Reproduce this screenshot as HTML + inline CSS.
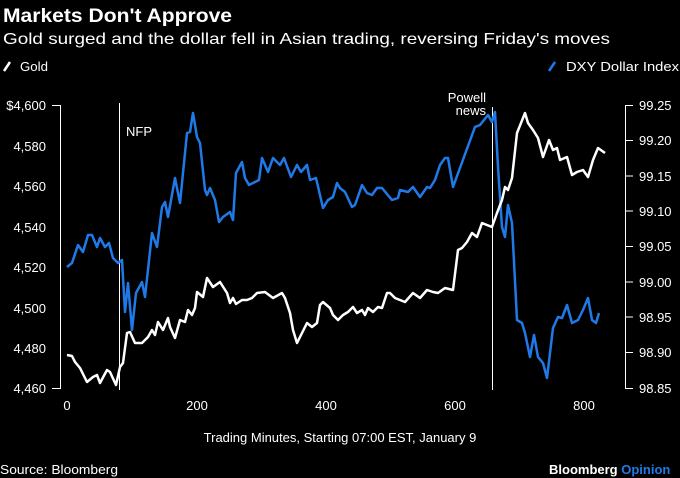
<!DOCTYPE html>
<html><head><meta charset="utf-8"><style>
html,body{margin:0;padding:0;background:#000;}
svg{display:block;font-family:"Liberation Sans",sans-serif;}
</style></head><body>
<svg width="680" height="478" viewBox="0 0 680 478" xmlns="http://www.w3.org/2000/svg">
<rect width="680" height="478" fill="#000"/>
<text x="3" y="22" fill="#fff" font-size="19" font-weight="bold" textLength="229" lengthAdjust="spacingAndGlyphs">Markets Don't Approve</text>
<text x="3" y="44" fill="#fff" font-size="16" textLength="607" lengthAdjust="spacingAndGlyphs">Gold surged and the dollar fell in Asian trading, reversing Friday's moves</text>
<line x1="4" y1="71" x2="10" y2="62" stroke="#fff" stroke-width="2.5"/>
<text x="20" y="71" fill="#fff" font-size="13" textLength="28" lengthAdjust="spacingAndGlyphs">Gold</text>
<line x1="549" y1="71" x2="555" y2="62" stroke="#1f7ae8" stroke-width="2.5"/>
<text x="566" y="71" fill="#fff" font-size="13" textLength="113" lengthAdjust="spacingAndGlyphs">DXY Dollar Index</text>
<g stroke="#fff" stroke-width="1" fill="none">
<path d="M52 105.5H60.5V388.5H52"/>
<path d="M633 105.5H625.5V388.5H633"/>
<path d="M625 140.5h8M625 176h8M625 211h8M625 246.5h8M625 282h8M625 317h8M625 352.5h8"/>
<line x1="119.5" y1="103" x2="119.5" y2="390"/>
<line x1="492.5" y1="107" x2="492.5" y2="390"/>
</g>
<g fill="#fff" font-size="13" text-anchor="end">
<text x="46" y="110">$4,600</text><text x="46" y="151">4,580</text><text x="46" y="191">4,560</text><text x="46" y="232">4,540</text><text x="46" y="272">4,520</text><text x="46" y="313">4,500</text><text x="46" y="353">4,480</text><text x="46" y="393">4,460</text>
</g>
<g fill="#fff" font-size="13">
<text x="639" y="110">99.25</text><text x="639" y="145">99.20</text><text x="639" y="181">99.15</text><text x="639" y="216">99.10</text><text x="639" y="251">99.05</text><text x="639" y="287">99.00</text><text x="639" y="322">98.95</text><text x="639" y="357">98.90</text><text x="639" y="393">98.85</text>
</g>
<g fill="#fff" font-size="13" text-anchor="middle">
<text x="67" y="410">0</text><text x="197" y="410">200</text><text x="326" y="410">400</text><text x="455" y="410">600</text><text x="584" y="410">800</text>
<text x="340" y="442">Trading Minutes, Starting 07:00 EST, January 9</text>
</g>
<text x="126" y="136" fill="#fff" font-size="13">NFP</text>
<text x="486" y="102" fill="#fff" font-size="13" text-anchor="end">Powell</text>
<text x="486" y="115" fill="#fff" font-size="13" text-anchor="end">news</text>
<text x="0" y="474" fill="#fff" font-size="13" textLength="118" lengthAdjust="spacingAndGlyphs">Source: Bloomberg</text>
<text x="549" y="474" fill="#fff" font-size="13" font-weight="bold">Bloomberg <tspan fill="#1f7ae8">Opinion</tspan></text>
<polyline fill="none" stroke="#1f7ae8" stroke-width="2.5" stroke-linejoin="round" points="67,267 72,263 78,245 83,252 88,235 92,235 97,247 100,238 105,247 109,243 113,258 118,263 122,260 125,312 128,283 132,330 136,293 142,282 145,297 152,233 157,247 162,207 165,202 168,217 175,178 180,203 187,133 190,132 193,113 197,137 200,143 205,190 207,195 210,188 215,200 219,222 223,217 230,212 233,220 236,173 242,162 245,178 249,185 255,182 259,180 262,158 268,172 273,158 280,165 284,158 291,177 297,165 301,172 307,165 310,180 316,178 323,208 328,200 333,197 337,183 340,188 345,192 352,207 355,205 362,185 367,193 372,195 377,188 382,188 392,200 398,198 400,190 408,192 413,187 420,197 427,187 430,188 435,180 440,165 445,158 448,158 453,187 475,127 480,125 488,115 492,122 495,112 498,167 502,227 505,237 508,205 512,223 517,320 522,323 525,333 530,357 534,335 538,357 543,363 547,378 553,328 558,317 562,318 567,305 572,323 578,320 583,310 588,298 592,320 596,323 599,313"/>
<polyline fill="none" stroke="#fff" stroke-width="2.5" stroke-linejoin="round" points="67,355 72,356 75,362 80,368 87,382 93,377 97,375 100,383 107,370 110,372 116,385 120,367 123,363 127,333 130,332 135,343 142,343 148,337 152,330 155,335 158,322 163,330 168,318 170,327 175,338 180,320 185,322 188,310 192,315 195,308 197,292 203,297 207,278 213,287 220,282 227,293 230,303 233,298 236,304 242,300 247,300 252,298 257,293 265,292 273,298 282,293 285,298 290,313 293,330 297,343 302,333 307,323 312,327 317,323 320,305 323,302 330,308 333,315 338,320 343,315 348,312 353,307 357,313 362,310 365,315 368,308 373,312 378,307 382,308 387,293 390,293 395,298 405,302 413,293 420,298 427,290 433,292 438,293 445,288 453,290 458,250 462,248 467,242 472,233 477,237 482,223 487,225 492,227 497,213 502,200 505,187 508,190 512,178 517,133 525,113 528,123 533,130 538,138 543,157 549,140 553,150 557,148 560,160 567,157 572,175 577,172 583,170 588,177 593,160 598,148 605,153"/>
</svg>
</body></html>
